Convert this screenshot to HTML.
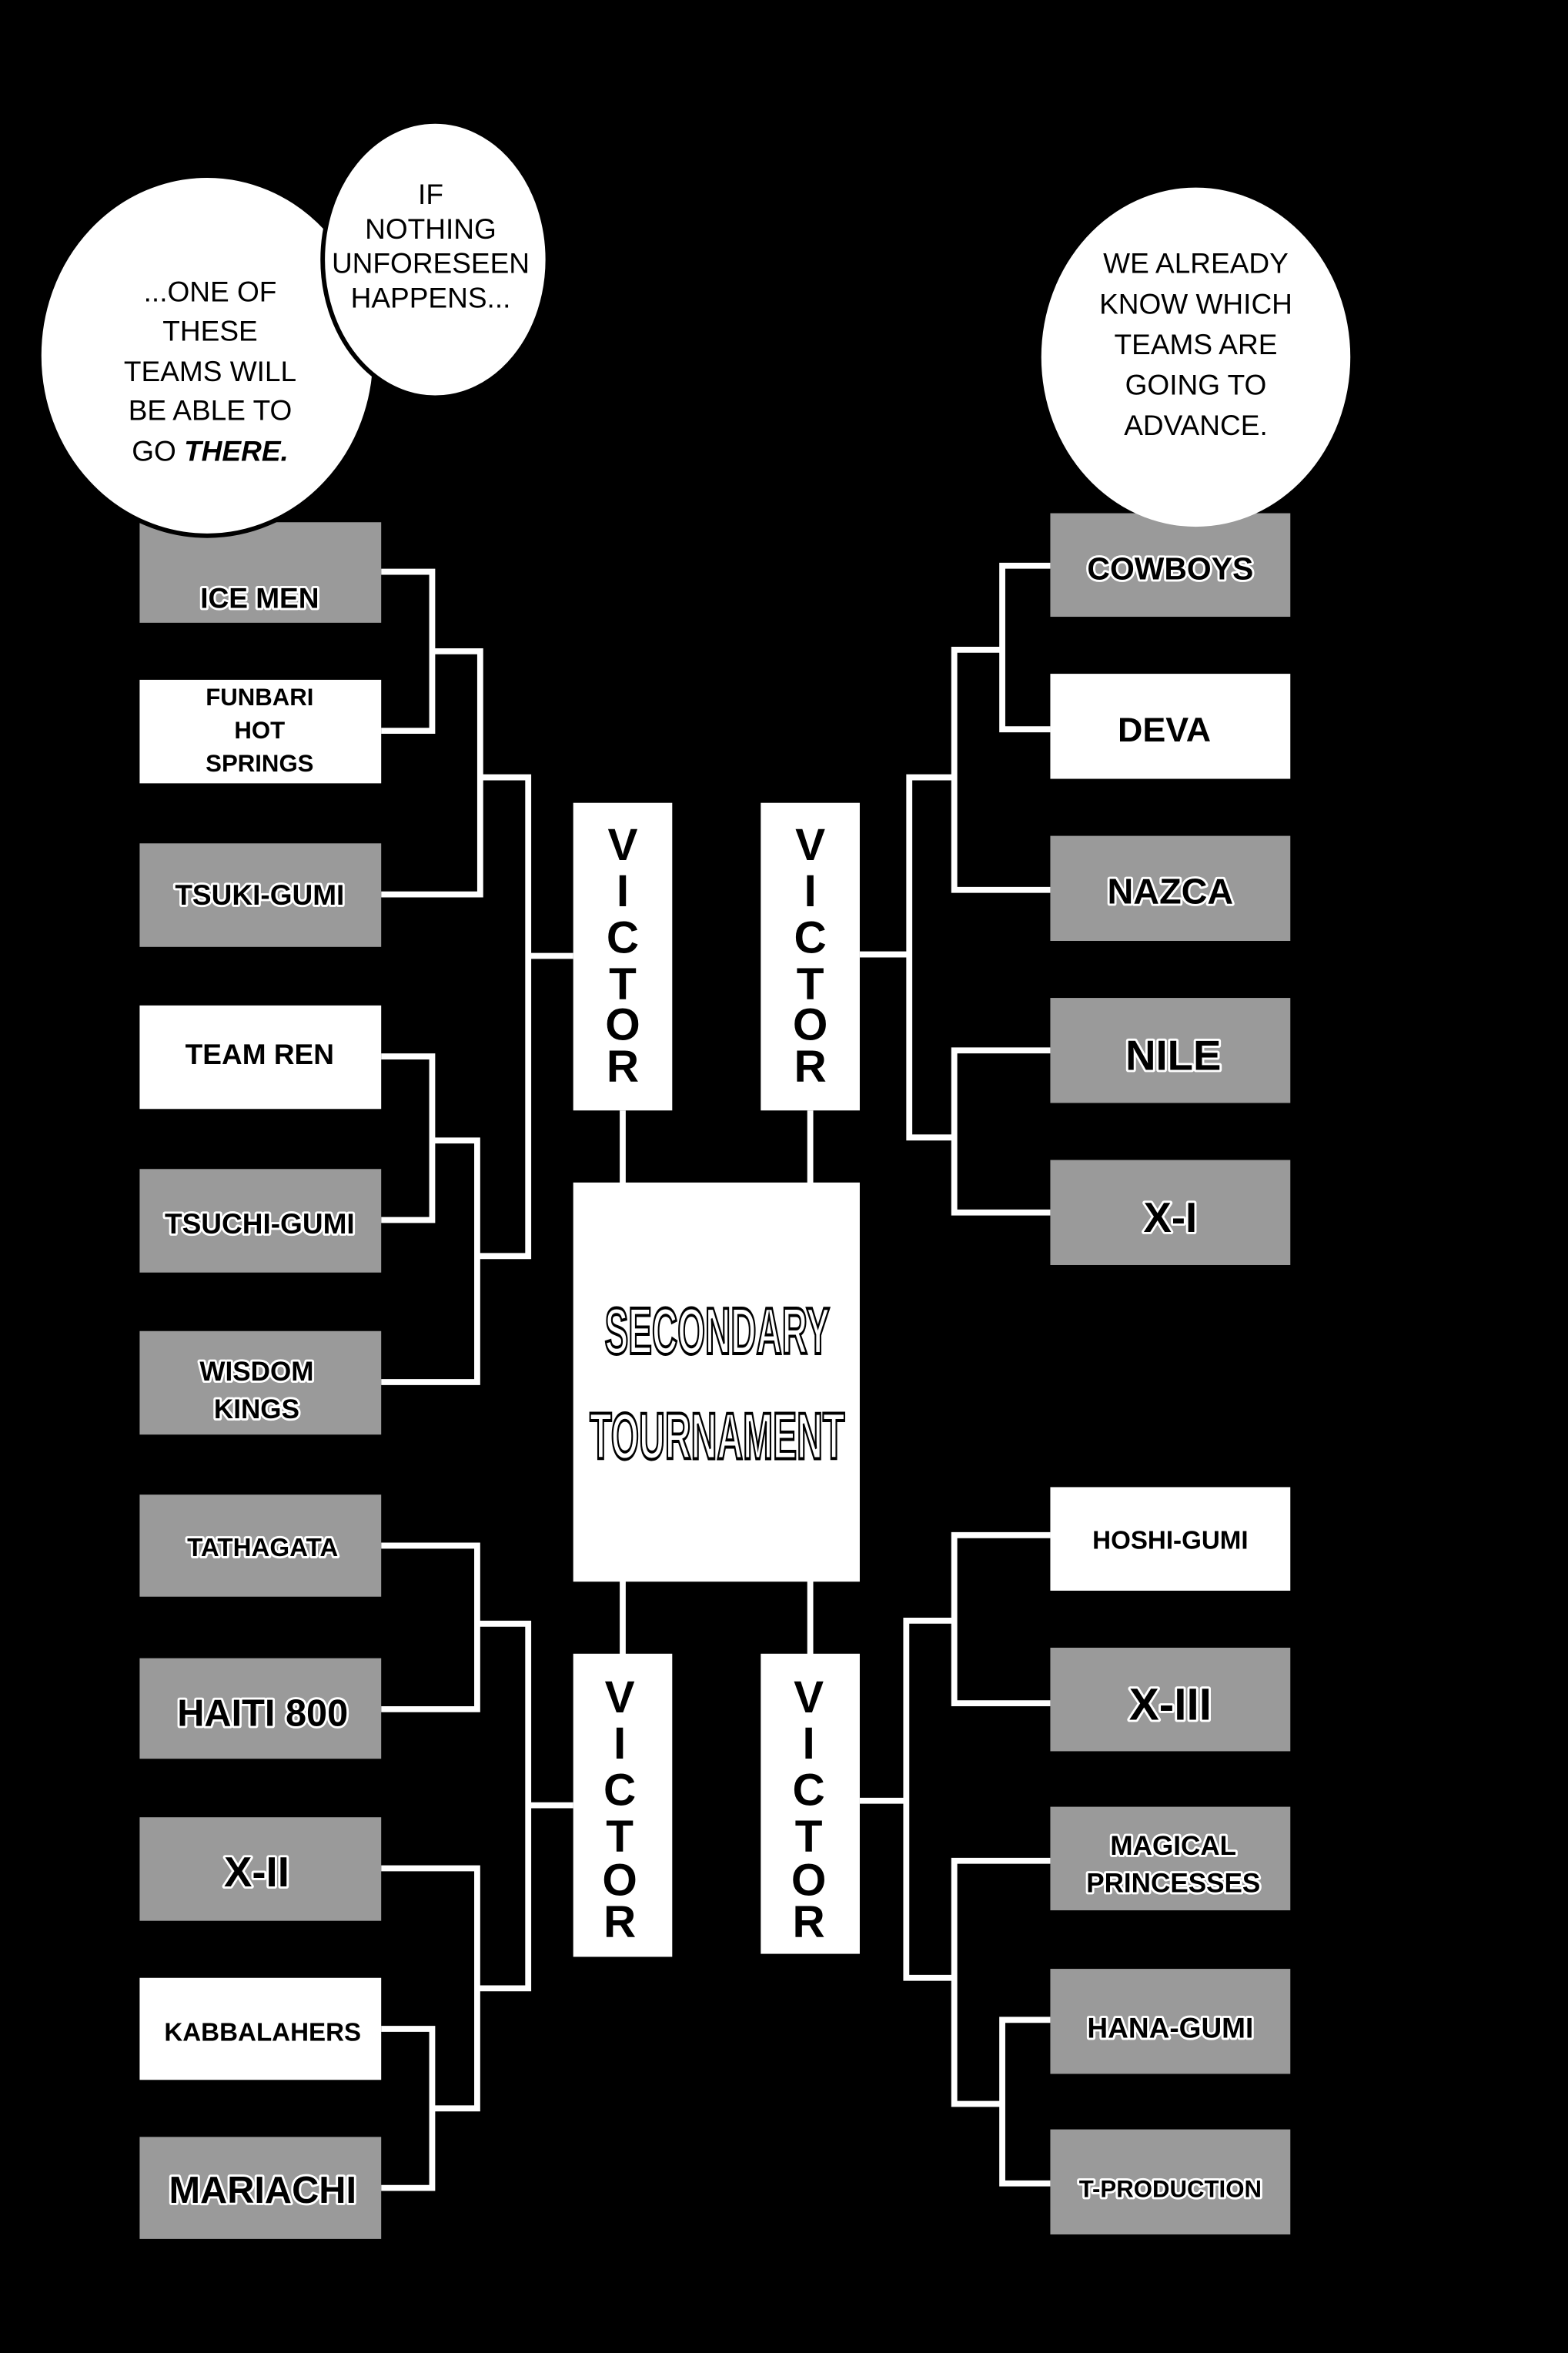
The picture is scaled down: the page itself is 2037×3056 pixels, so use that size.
<!DOCTYPE html>
<html><head><meta charset="utf-8"><style>
html,body{margin:0;padding:0;background:#000;}
svg{display:block}
.b{font-family:"Liberation Sans",sans-serif;font-weight:bold;text-anchor:middle;fill:#000}
.g{paint-order:stroke;stroke:#fff;stroke-width:3px;stroke-linejoin:round}
.h{font-family:"Liberation Sans",sans-serif;font-size:19px;text-anchor:middle;fill:#000}
.v{font-family:"Liberation Sans",sans-serif;font-weight:900;font-size:30px;text-anchor:middle;fill:#000}
</style></head><body>
<svg width="2037" height="3056" viewBox="0 0 1045 1568" xmlns="http://www.w3.org/2000/svg">
<rect width="1045" height="1568" fill="#000"/>
<g fill="none" stroke="#fff" stroke-width="4">
<polyline points="254,381 288,381 288,487 254,487"/>
<polyline points="288,434 320,434 320,596 254,596"/>
<polyline points="320,518 352,518 352,837 318,837"/>
<line x1="352" y1="637" x2="382" y2="637"/>
<polyline points="254,704 288,704 288,813 254,813"/>
<polyline points="288,760 318,760 318,921 254,921"/>
<polyline points="700,377 668,377 668,486 700,486"/>
<polyline points="668,433 636,433 636,593 700,593"/>
<polyline points="636,518 606,518 606,758 636,758"/>
<line x1="573" y1="636" x2="606" y2="636"/>
<polyline points="700,700 636,700 636,808 700,808"/>
<polyline points="254,1030 318,1030 318,1139 254,1139"/>
<polyline points="318,1082 352,1082 352,1325 318,1325"/>
<line x1="352" y1="1203" x2="382" y2="1203"/>
<polyline points="254,1245 318,1245 318,1405 288,1405"/>
<polyline points="254,1352 288,1352 288,1458 254,1458"/>
<polyline points="700,1023 636,1023 636,1135 700,1135"/>
<polyline points="636,1080 604,1080 604,1318 636,1318"/>
<line x1="573" y1="1200" x2="604" y2="1200"/>
<polyline points="700,1240 636,1240 636,1402 668,1402"/>
<polyline points="700,1346 668,1346 668,1455 700,1455"/>
<line x1="415" y1="740" x2="415" y2="790"/>
<line x1="540" y1="740" x2="540" y2="790"/>
<line x1="415" y1="1052" x2="415" y2="1104"/>
<line x1="540" y1="1052" x2="540" y2="1104"/>
</g>
<g>
<rect x="93" y="348" width="161" height="67" fill="#9a9a9a"/>
<rect x="93" y="453" width="161" height="69" fill="#fff"/>
<rect x="93" y="562" width="161" height="69" fill="#9a9a9a"/>
<rect x="93" y="670" width="161" height="69" fill="#fff"/>
<rect x="93" y="779" width="161" height="69" fill="#9a9a9a"/>
<rect x="93" y="887" width="161" height="69" fill="#9a9a9a"/>
<rect x="93" y="996" width="161" height="68" fill="#9a9a9a"/>
<rect x="93" y="1105" width="161" height="67" fill="#9a9a9a"/>
<rect x="93" y="1211" width="161" height="69" fill="#9a9a9a"/>
<rect x="93" y="1318" width="161" height="68" fill="#fff"/>
<rect x="93" y="1424" width="161" height="68" fill="#9a9a9a"/>
<rect x="700" y="342" width="160" height="69" fill="#9a9a9a"/>
<rect x="700" y="449" width="160" height="70" fill="#fff"/>
<rect x="700" y="557" width="160" height="70" fill="#9a9a9a"/>
<rect x="700" y="665" width="160" height="70" fill="#9a9a9a"/>
<rect x="700" y="773" width="160" height="70" fill="#9a9a9a"/>
<rect x="700" y="991" width="160" height="69" fill="#fff"/>
<rect x="700" y="1098" width="160" height="69" fill="#9a9a9a"/>
<rect x="700" y="1204" width="160" height="69" fill="#9a9a9a"/>
<rect x="700" y="1312" width="160" height="70" fill="#9a9a9a"/>
<rect x="700" y="1419" width="160" height="70" fill="#9a9a9a"/>
<rect x="382" y="535" width="66" height="205" fill="#fff"/>
<rect x="507" y="535" width="66" height="205" fill="#fff"/>
<rect x="382" y="1102" width="66" height="202" fill="#fff"/>
<rect x="507" y="1102" width="66" height="200" fill="#fff"/>
<rect x="382" y="788" width="191" height="266" fill="#fff"/>
</g>
<ellipse cx="138" cy="237" rx="112" ry="120" fill="#fff" stroke="#000" stroke-width="3"/>
<ellipse cx="290" cy="173" rx="75" ry="92" fill="#fff" stroke="#000" stroke-width="3"/>
<ellipse cx="797" cy="238" rx="103" ry="113" fill="#fff"/>
<g class="h">
<text x="287" y="136">IF</text>
<text x="287" y="159">NOTHING</text>
<text x="287" y="182">UNFORESEEN</text>
<text x="287" y="205">HAPPENS...</text>
<text x="140" y="201">...ONE OF</text>
<text x="140" y="227">THESE</text>
<text x="140" y="254">TEAMS WILL</text>
<text x="140" y="280">BE ABLE TO</text>
<text x="140" y="307">GO <tspan font-weight="bold" font-style="italic">THERE.</tspan></text>
<text x="797" y="182">WE ALREADY</text>
<text x="797" y="209">KNOW WHICH</text>
<text x="797" y="236">TEAMS ARE</text>
<text x="797" y="263">GOING TO</text>
<text x="797" y="290">ADVANCE.</text>
</g>
<g class="b">
<text class="g" x="173" y="405" font-size="19">ICE MEN</text>
<text x="173" y="470" font-size="16">FUNBARI</text>
<text x="173" y="492" font-size="16">HOT</text>
<text x="173" y="514" font-size="16">SPRINGS</text>
<text class="g" x="173" y="603" font-size="19">TSUKI-GUMI</text>
<text x="173" y="709" font-size="19">TEAM REN</text>
<text class="g" x="173" y="822" font-size="19">TSUCHI-GUMI</text>
<text class="g" x="171" y="920" font-size="18">WISDOM</text>
<text class="g" x="171" y="945" font-size="18">KINGS</text>
<text class="g" x="175" y="1037" font-size="17">TATHAGATA</text>
<text class="g" x="175" y="1150" font-size="25">HAITI 800</text>
<text class="g" x="171" y="1257" font-size="28">X-II</text>
<text x="175" y="1360" font-size="17">KABBALAHERS</text>
<text class="g" x="175" y="1468" font-size="25">MARIACHI</text>
<text class="g" x="780" y="386" font-size="21">COWBOYS</text>
<text x="776" y="494" font-size="23">DEVA</text>
<text class="g" x="780" y="602" font-size="24">NAZCA</text>
<text class="g" x="782" y="713" font-size="28">NILE</text>
<text class="g" x="780" y="821" font-size="28">X-I</text>
<text x="780" y="1032" font-size="17">HOSHI-GUMI</text>
<text class="g" x="780" y="1146" font-size="30">X-III</text>
<text class="g" x="782" y="1236" font-size="18">MAGICAL</text>
<text class="g" x="782" y="1261" font-size="18">PRINCESSES</text>
<text class="g" x="780" y="1358" font-size="19">HANA-GUMI</text>
<text class="g" x="780" y="1464" font-size="16">T-PRODUCTION</text>
</g>
<g class="v">
<text x="415" y="573">V</text><text x="415" y="604">I</text><text x="415" y="635">C</text><text x="415" y="666">T</text><text x="415" y="693">O</text><text x="415" y="721">R</text>
<text x="540" y="573">V</text><text x="540" y="604">I</text><text x="540" y="635">C</text><text x="540" y="666">T</text><text x="540" y="693">O</text><text x="540" y="721">R</text>
<text x="413" y="1141">V</text><text x="413" y="1172">I</text><text x="413" y="1203">C</text><text x="413" y="1234">T</text><text x="413" y="1263">O</text><text x="413" y="1291">R</text>
<text x="539" y="1141">V</text><text x="539" y="1172">I</text><text x="539" y="1203">C</text><text x="539" y="1234">T</text><text x="539" y="1263">O</text><text x="539" y="1291">R</text>
</g>
<g font-family="Liberation Sans Narrow, Liberation Sans, sans-serif" font-weight="bold" fill="#fff" stroke="#000" stroke-width="2">
<text x="403" y="902" font-size="44" textLength="150" lengthAdjust="spacingAndGlyphs">SECONDARY</text>
<text x="393" y="972" font-size="44" textLength="170" lengthAdjust="spacingAndGlyphs">TOURNAMENT</text>
</g>
</svg>
</body></html>
